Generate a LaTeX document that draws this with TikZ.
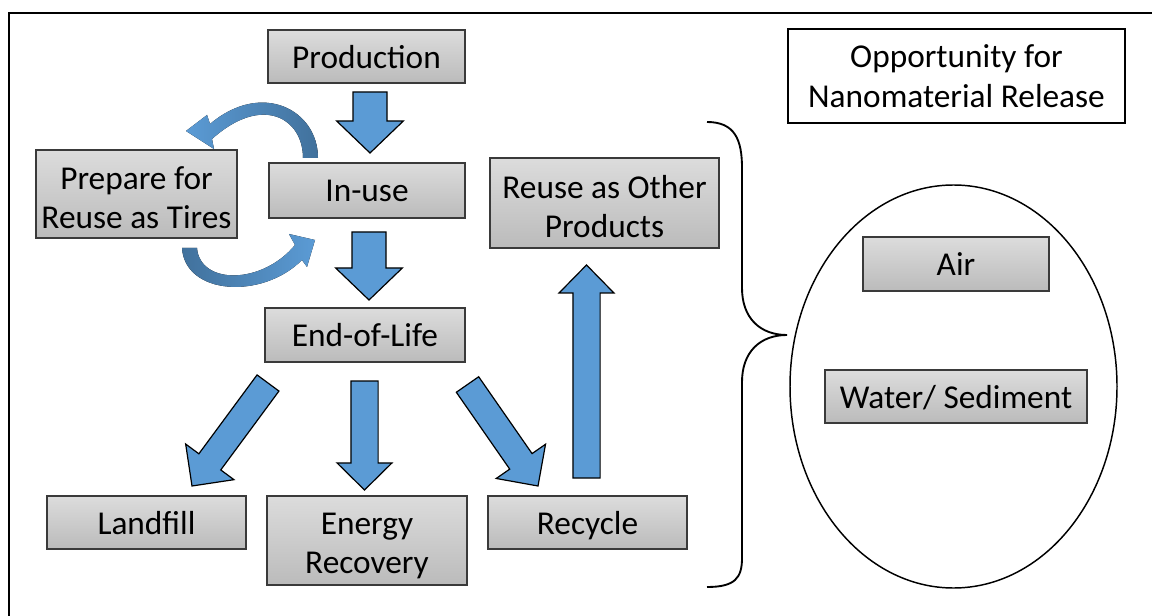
\documentclass[tikz,border=0pt]{standalone}
\usepackage{fontspec}
\setmainfont{Carlito}
\usetikzlibrary{shapes.geometric,calc}
\definecolor{arrowblue}{HTML}{5B9BD5}
\definecolor{arrowdark}{HTML}{41719C}
\definecolor{boxtop}{HTML}{DCDCDC}
\definecolor{boxbot}{HTML}{BBBBBB}
\definecolor{boxedge}{HTML}{3A3A3A}

% block arrow from #1 to #2: shaft half width #3, head half width #4, head length #5
\newcommand\blockarrow[5]{%
  \coordinate (hb) at ($(#2)!#5!(#1)$);
  \draw[blockfill]
    ($(#1)!#3!90:(#2)$) -- ($(hb)!#3!90:(#2)$) -- ($(hb)!#4!90:(#2)$) --
    (#2) --
    ($(hb)!#4!-90:(#2)$) -- ($(hb)!#3!-90:(#2)$) -- ($(#1)!#3!-90:(#2)$) -- cycle;
}

\begin{document}
\begin{tikzpicture}[x=0.75pt,y=-0.75pt,
  stage/.style={draw=boxedge, line width=0.8pt, top color=boxtop, bottom color=boxbot,
    inner sep=0pt, align=center, text depth=0pt, font=\fontsize{25}{29.5}\selectfont},
  plainbox/.style={draw=black, line width=1.1pt, fill=white, inner sep=0pt,
    align=center, text depth=0pt, font=\fontsize{25}{30}\selectfont},
  blockfill/.style={fill=arrowblue, draw=black, line width=0.9pt, line join=miter},
  frameline/.style={line width=1.5pt},
  bracestyle/.style={line width=1.4pt}]

\useasboundingbox (0,0) rectangle (1152,616);
\clip (0,0) rectangle (1152,616);
\fill[white] (0,0) rectangle (1152,616);

% outer frame
\draw[frameline] (8.5,640) -- (8.5,13) -- (1180,13);

% life-cycle stages
\node[stage, minimum width=147.75pt, minimum height=39.75pt] (prod) at (366.5,56.5) {Production};
\node[stage, minimum width=147pt, minimum height=41.25pt] (inuse) at (367,190.5) {In-use};
\node[stage, text height=52.5pt, minimum width=150.75pt, minimum height=66pt] (prep) at (136.5,194) {Prepare for\\Reuse as Tires};
\node[stage, minimum width=150pt, minimum height=40.5pt] (eol) at (365,335) {End-of-Life};
\node[stage, text height=52pt, minimum width=171.75pt, minimum height=67.5pt] (reuse) at (604.5,203) {Reuse as Other\\Products};
\node[stage, minimum width=149.25pt, minimum height=39.75pt] (landfill) at (146.5,522.5) {Landfill};
\node[stage, text height=50pt, minimum width=150pt, minimum height=66.75pt] (energy) at (367,540.5) {Energy\\Recovery};
\node[stage, minimum width=149.25pt, minimum height=39.75pt] (recycle) at (587.5,522.5) {Recycle};

% release side
\node[plainbox, minimum width=252.75pt, minimum height=70.5pt] (opp) at (956.5,76) {Opportunity for\\Nanomaterial Release};
\node[ellipse, draw=black, line width=1.1pt, minimum width=245.25pt, minimum height=302.25pt, inner sep=0pt] (release) at (953.5,386.5) {};
\node[stage, minimum width=139.5pt, minimum height=40.5pt] (air) at (956,264) {Air};
\node[stage, minimum width=196.5pt, minimum height=39.75pt] (water) at (956,396.5) {Water/ Sediment};

% block arrows between stages
\coordinate (a1s) at (370,92);    \coordinate (a1e) at (370,153);
\coordinate (a2s) at (369,232);   \coordinate (a2e) at (369,300);
\coordinate (a3s) at (268,383);   \coordinate (a3e) at (192,486);
\coordinate (a4s) at (364.5,381); \coordinate (a4e) at (364.5,490);
\coordinate (a5s) at (467.5,384.5); \coordinate (a5e) at (538,486);
\coordinate (a6s) at (586.5,478); \coordinate (a6e) at (586.5,265);
\blockarrow{a1s}{a1e}{12.75pt}{25pt}{24pt}
\blockarrow{a2s}{a2e}{12.75pt}{25pt}{24pt}
\blockarrow{a3s}{a3e}{10.2pt}{22.5pt}{22.5pt}
\blockarrow{a4s}{a4e}{10.2pt}{20.6pt}{20.3pt}
\blockarrow{a5s}{a5e}{10.2pt}{22.5pt}{22.5pt}
\blockarrow{a6s}{a6e}{10.2pt}{20.6pt}{21pt}

% curved arrows between In-use and the tire reuse step
\fill[left color=arrowblue, right color=arrowdark]
  (318,158) .. controls (318,110) and (262,80) .. (210,124)
  -- (207,115) -- (186,131) -- (214,149) -- (212,139)
  .. controls (262,94) and (303,118) .. (303,158) -- cycle;
\fill[left color=arrowdark, right color=arrowblue]
  (182,248) .. controls (185,295) and (262,300) .. (302,260)
  -- (307,267) -- (315,240) -- (289,234) -- (295,245)
  .. controls (262,285) and (200,285) .. (197,248) -- cycle;

% brace grouping the stages
\draw[bracestyle] (707,122) .. controls (735,122) and (742,140) .. (742,168)
  -- (742,288) .. controls (742,318) and (760,335) .. (787,335)
  .. controls (760,335) and (742,352) .. (742,382)
  -- (742,558) .. controls (742,578) and (735,587) .. (707,587);
\end{tikzpicture}
\end{document}
